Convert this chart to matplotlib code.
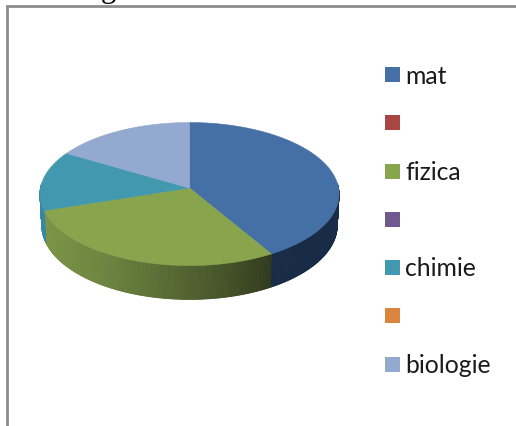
import numpy as np
import matplotlib
matplotlib.use('Agg')
import matplotlib.pyplot as plt
from matplotlib.patches import Polygon, Rectangle

# Chart data
categories = ['mat', '', 'fizica', '', 'chimie', '', 'biologie']
values = [41.5, 0, 28.5, 0, 13.5, 0, 16.5]
colours = ['#4470a5', '#a84644', '#88a54d', '#71588f', '#4198af', '#db843d', '#93a9cf']

plt.rcParams['font.family'] = ['Lato', 'DejaVu Sans']

fig = plt.figure(figsize=(5.16, 4.27), dpi=100)
ax = fig.add_axes([0, 0, 1, 1])
ax.set_xlim(0, 516)
ax.set_ylim(427, 0)
ax.axis('off')

# Pie geometry in pixels, with a little perspective towards the back
cx, cy = 189.5, 189
rx, ry = 149, 71
k = 0.0845
depth = 31


def project(angle, drop=0.0, shrink=1.0):
    # angle is clockwise from the top, in degrees
    a = np.radians(angle)
    u = np.sin(a)
    v = np.cos(a)
    s = 1 / (1 + k * v)
    return cx + rx * u * s * shrink, cy - ry * v * s + drop * s


def side_colour(x):
    # shading of the green wall goes from light on the left to dark on the right
    xs = [44, 100, 160, 220, 270]
    r = np.interp(x, xs, [0x7a, 0x6e, 0x5a, 0x46, 0x30])
    g = np.interp(x, xs, [0x95, 0x86, 0x6d, 0x55, 0x3b])
    b = np.interp(x, xs, [0x47, 0x40, 0x35, 0x29, 0x1c])
    return (r / 255, g / 255, b / 255)


shares = np.array(values) / sum(values) * 360
edges = np.concatenate([[0], np.cumsum(shares)])

# Side wall first, split in thin strips so the shading can vary
for i, c in enumerate(colours):
    if values[i] == 0:
        continue
    angles = np.linspace(edges[i], edges[i + 1], int(shares[i] * 2) + 2)
    for a0, a1 in zip(angles[:-1], angles[1:]):
        if np.cos(np.radians((a0 + a1) / 2)) > 0.06:
            continue
        x0, y0 = project(a0)
        x1, y1 = project(a1)
        x2, y2 = project(a1, depth, 0.988)
        x3, y3 = project(a0, depth, 0.988)
        if categories[i] == 'mat':
            fc = '#192c47'
        elif categories[i] == 'fizica':
            fc = side_colour((x0 + x1) / 2)
        else:
            fc = '#3288a6'
        ax.add_patch(Polygon([(x0, y0), (x1, y1), (x2, y2), (x3, y3)], closed=True,
                             facecolor=fc, edgecolor=fc, linewidth=0.6))

# Top face
for i, c in enumerate(colours):
    if values[i] == 0:
        continue
    angles = np.linspace(edges[i], edges[i + 1], 120)
    xs, ys = project(angles)
    pts = [(cx, cy)] + list(zip(xs, ys))
    ax.add_patch(Polygon(pts, closed=True, facecolor=c, edgecolor=c, linewidth=0.4))

# Legend
legend_y = [75, 123, 172, 220, 268, 316, 365]
for name, c, y in zip(categories, colours, legend_y):
    ax.add_patch(Rectangle((385, y - 7), 15, 14.5, facecolor=c, edgecolor='none'))
    if name:
        ax.text(405.5, y + 1, name, fontsize=17.8, color='#1a1a1a', va='center', ha='left')

# Chart frame, only top and left edges are in the crop
ax.plot([6.5, 6.5, 516], [427, 6.5, 6.5], color='#8c8c8c', linewidth=2, solid_joinstyle='miter')

# Tail of the caption cut off by the top of the image
ax.text(108, -3, 'g', fontsize=22, color='black', ha='center', va='baseline', family='Liberation Serif')

fig.savefig('out.png', dpi=100)
